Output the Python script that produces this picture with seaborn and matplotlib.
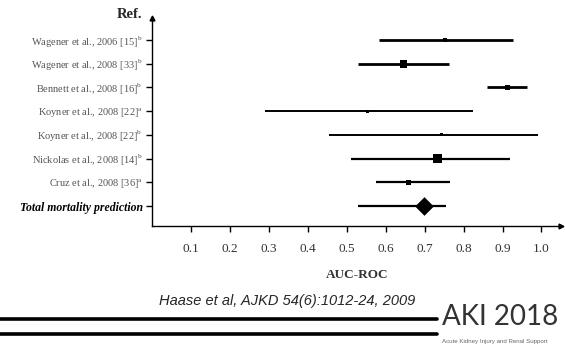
import matplotlib
matplotlib.use("Agg")
import matplotlib.pyplot as plt
import seaborn as sns
import pandas as pd

sns.set_style("white")
plt.rcParams["mathtext.fontset"] = "custom"
plt.rcParams["mathtext.rm"] = "Liberation Serif"

# study labels, top to bottom
studies = [
    r"Wagener et al., 2006 [15]$^{\mathrm{b}}$",
    r"Wagener et al., 2008 [33]$^{\mathrm{b}}$",
    r"Bennett et al., 2008 [16]$^{\mathrm{b}}$",
    r"Koyner et al., 2008 [22]$^{\mathrm{a}}$",
    r"Koyner et al., 2008 [22]$^{\mathrm{b}}$",
    r"Nickolas et al., 2008 [14]$^{\mathrm{b}}$",
    r"Cruz et al., 2008 [36]$^{\mathrm{a}}$",
    "Total mortality prediction",
]
auc = [0.752, 0.645, 0.913, 0.552, 0.744, 0.732, 0.658, 0.699]
ci_low = [0.583, 0.529, 0.859, 0.289, 0.454, 0.510, 0.575, 0.529]
ci_high = [0.926, 0.762, 0.964, 0.825, 0.990, 0.919, 0.766, 0.754]
# marker area (study weight)
weight = [8, 30, 13, 5, 5.1, 42, 16, 90]
x_ticks = [0.1, 0.2, 0.3, 0.4, 0.5, 0.6, 0.7, 0.8, 0.9, 1.0]

line_w = [2.0, 2.0, 2.0, 1.4, 1.4, 1.6, 1.6, 1.6]
marker = ["s", "s", "s", "s", "s", "s", "s", "D"]

df = pd.DataFrame({"study": studies, "auc": auc, "lo": ci_low, "hi": ci_high,
                   "w": weight, "lw": line_w, "m": marker})
df["pos"] = range(len(df), 0, -1)

fig = plt.figure(figsize=(5.65, 3.51), dpi=100)
ax = fig.add_axes([0.2697, 0.356, 0.723, 0.593])

# confidence intervals
for _, r in df.iterrows():
    ax.hlines(r["pos"], r["lo"], r["hi"], color="black", lw=r["lw"], zorder=2)

# point estimates
for m, sub in df.groupby("m"):
    sns.scatterplot(data=sub, x="auc", y="pos", size="w",
                    sizes={w: w for w in sub["w"]}, marker=m, color="black",
                    edgecolor="black", linewidth=0, legend=False, ax=ax, zorder=3)

ax.set_xlim(0, 1.05)
ax.set_ylim(0.16, 8.93)
ax.set_xticks(x_ticks)
ax.set_xticklabels([f"{t:.1f}" for t in x_ticks], family="Liberation Serif",
                   fontsize=9.5, color="#333333")
ax.set_yticks(df["pos"])
ax.set_yticklabels(df["study"], family="Liberation Serif", fontsize=7.5, color="#555555")
lab = ax.get_yticklabels()[-1]
lab.set_fontweight("bold")
lab.set_fontstyle("italic")
lab.set_color("black")
lab.set_fontsize(8.5)
ax.tick_params(axis="both", direction="out", length=4, width=1, color="black",
               left=True, bottom=True, pad=3)
ax.tick_params(axis="x", pad=8)
ax.set_xlabel("AUC-ROC", family="Liberation Serif", fontweight="bold",
              fontsize=9.5, color="#333333", labelpad=10)
ax.set_ylabel("")

sns.despine(ax=ax)
for s in ["left", "bottom"]:
    ax.spines[s].set_color("black")
    ax.spines[s].set_linewidth(1)

# axis arrows
ax.plot(1, 0, ">k", markersize=3.5, transform=ax.transAxes, clip_on=False)
ax.plot(0, 1, "^k", markersize=3.5, transform=ax.transAxes, clip_on=False)

fig.text(0.251, 0.958, "Ref.", family="Liberation Serif", fontweight="bold",
         fontsize=10.5, ha="right", va="center")

# footer
fig.text(0.508, 0.142, "Haase et al, AJKD 54(6):1012-24, 2009", family="Liberation Sans",
         style="italic", fontsize=10.5, ha="center", va="center")
fig.add_artist(plt.Line2D([0, 0.773], [0.091, 0.091], color="black", lw=2.6))
fig.add_artist(plt.Line2D([0, 0.773], [0.048, 0.048], color="black", lw=2.6))
fig.text(0.782, 0.06, "AKI 2018", family="Lato", fontsize=20,
         color="#333333", ha="left", va="bottom")
fig.text(0.783, 0.028, "Acute Kidney Injury and Renal Support", family="Liberation Sans",
         fontsize=4.4, color="#666666", ha="left", va="center")

fig.savefig("out.png", dpi=100)
